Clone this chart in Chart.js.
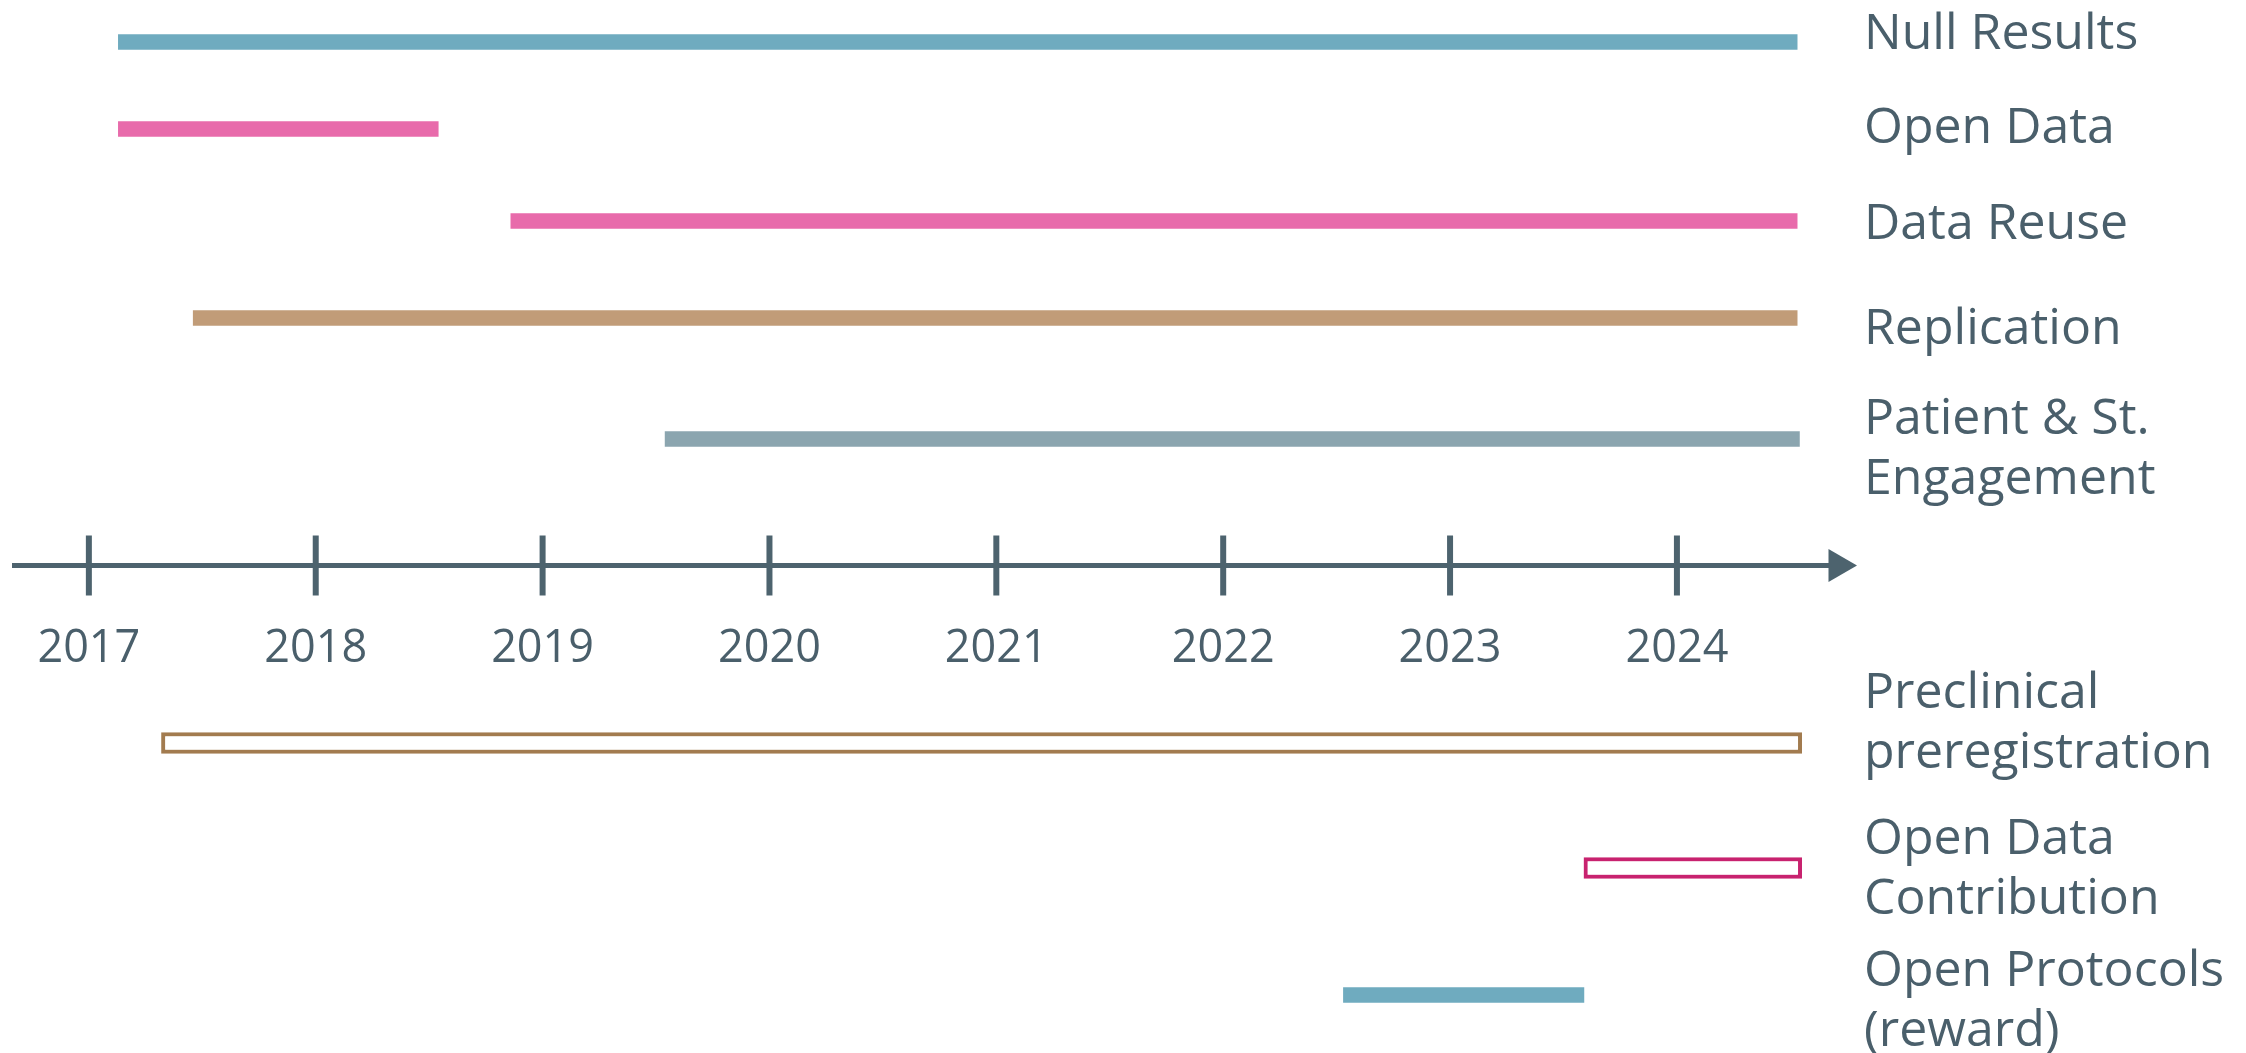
<!DOCTYPE html>
<html>
<head>
<meta charset="utf-8">
<script src="https://cdn.jsdelivr.net/npm/chart.js@4"></script>
<style>
    body { margin: 0; background: #ffffff; }
    #wrap { width: 2246px; height: 1053px; }
</style>
</head>
<body>
<div id="wrap"><canvas id="timeline" width="2246" height="1053"></canvas></div>
<script>
// data ----------------------------------------------------------------
const labels = [
    ['Null Results'],
    ['Open Data'],
    ['Data Reuse'],
    ['Replication'],
    ['Patient & St.', 'Engagement'],
    ['Preclinical', 'preregistration'],
    ['Open Data', 'Contribution'],
    ['Open Protocols', '(reward)']
];
const startYear = [2017.13, 2017.13, 2018.86, 2017.46, 2019.54, 2017.32, 2023.59, 2022.53];
const endYear = [2024.53, 2018.54, 2024.53, 2024.53, 2024.54, 2024.55, 2024.55, 2023.59];
const outlined = [false, false, false, false, false, true, true, false];
const years = [2017, 2018, 2019, 2020, 2021, 2022, 2023, 2024];

// layout / styles -----------------------------------------------------
const rowPos = [0.42, 1.29, 2.21, 3.18, 4.39, 7.43, 8.68, 9.95];
const labelPos = [0.344, 1.29, 2.25, 3.30, 4.50, 7.24, 8.70, 10.02];
const axisRow = 5.655;
const axisStart = 2016.67;
const axisEnd = 2024.71;
const barColors = ['#6fabbf', '#e86bab', '#e86bab', '#c19c78', '#8ba5af', '#a27b4f', '#c8226f', '#6fabbf'];
const textColor = '#4a5f6b';
const axisColor = '#4d636e';
const fontName = "'Open Sans', 'Noto Sans', sans-serif";


function barData(wantOutline) {
    let out = [];
    for (let i = 0; i < labels.length; i++) {
        if (outlined[i] === wantOutline) {
            out.push({ x: [startYear[i], endYear[i]], y: rowPos[i], c: barColors[i] });
        }
    }
    return out;
}


const filled = barData(false);
const hollow = barData(true);

new Chart(document.getElementById('timeline'), {
    type: 'bar',
    data: {
        datasets: [{
            type: 'scatter',
            data: years.map(y => ({ x: y, y: axisRow })),
            pointStyle: 'line',
            rotation: 90,
            radius: 30,
            hoverRadius: 30,
            borderWidth: 6,
            borderColor: axisColor,
            clip: false
        }, {
            type: 'scatter',
            data: [{ x: axisEnd, y: axisRow }],
            pointStyle: 'triangle',
            rotation: 90,
            radius: 19,
            hoverRadius: 19,
            borderWidth: 0,
            backgroundColor: axisColor,
            clip: false
        }, {
            indexAxis: 'y',
            data: filled,
            backgroundColor: filled.map(d => d.c),
            borderWidth: 0,
            barThickness: 15,
            grouped: false
        }, {
            indexAxis: 'y',
            data: hollow,
            backgroundColor: '#ffffff',
            borderColor: hollow.map(d => d.c),
            borderWidth: 4,
            borderSkipped: false,
            barThickness: 21,
            grouped: false
        }]
    },
    options: {
        responsive: false,
        devicePixelRatio: 1,
        animation: false,
        events: [],
        layout: { autoPadding: false, padding: { left: 14, right: 0, top: 0, bottom: 0 } },
        plugins: { legend: { display: false }, tooltip: { enabled: false } },
        scales: {
            x: {
                type: 'linear',
                axis: 'x',
                offset: false,
                position: { y: axisRow },
                min: axisStart,
                max: axisEnd,
                grid: { display: false, drawTicks: false, offset: false },
                border: { display: true, color: axisColor, width: 5 },
                afterBuildTicks: s => { s.ticks = years.map(v => ({ value: v })); },
                afterFit: s => { s.paddingLeft = 0; s.paddingRight = 0; },
                ticks: {
                    autoSkip: false,
                    maxRotation: 0,
                    padding: 57,
                    color: textColor,
                    font: { family: fontName, size: 45 },
                    callback: v => String(v)
                }
            },
            y: {
                type: 'linear',
                axis: 'y',
                offset: false,
                position: 'right',
                reverse: true,
                min: 0,
                max: 10.53,
                grid: { display: false, drawTicks: false, offset: false },
                border: { display: false },
                // label ticks sit a little off the bar rows, as in the source
                afterBuildTicks: s => { s.ticks = labelPos.map(v => ({ value: v })); },
                afterFit: s => { s.width = 2246 - 1838; s.paddingTop = 0; s.paddingBottom = 0; },
                ticks: {
                    autoSkip: false,
                    padding: 26,
                    color: textColor,
                    font: { family: fontName, size: 50, lineHeight: 1.2 },
                    callback: (v, i) => labels[i]
                }
            }
        }
    }
});
</script>
</body>
</html>
